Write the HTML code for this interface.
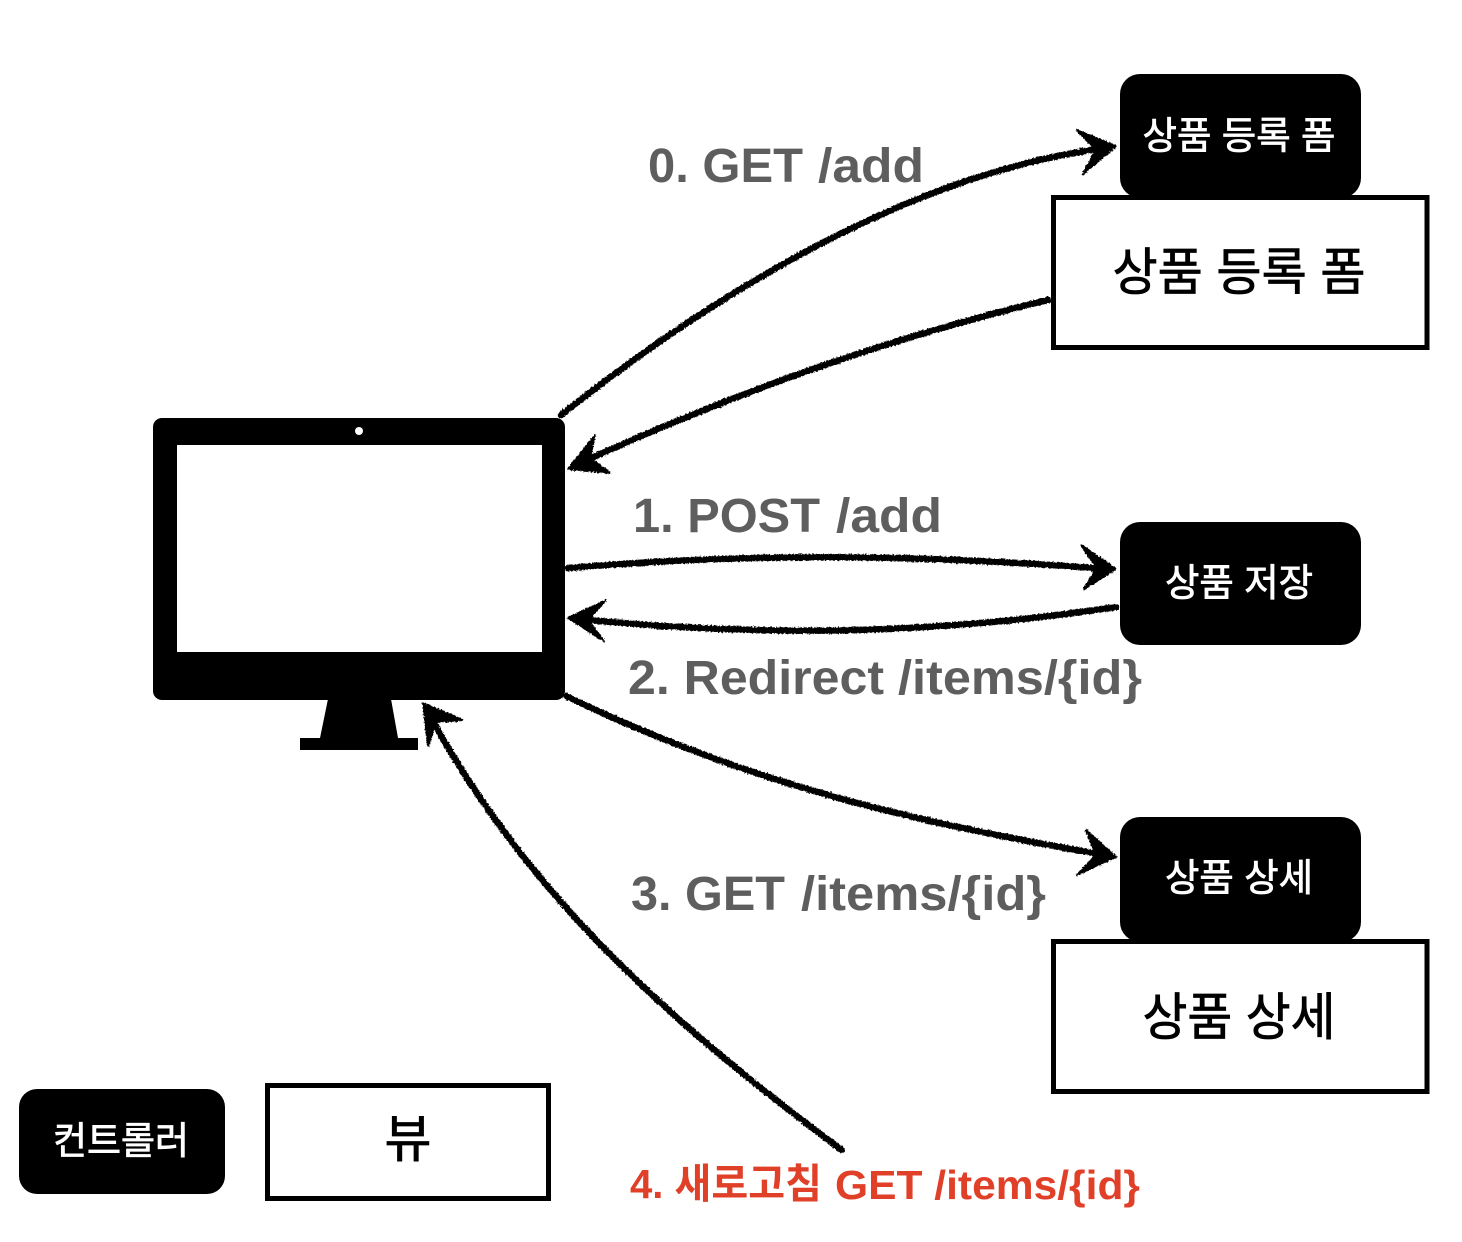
<!DOCTYPE html>
<html lang="ko"><head><meta charset="utf-8"><style>
html,body{margin:0;padding:0;background:#fff;width:1462px;height:1242px;overflow:hidden}
svg{display:block}
text{font-family:"Liberation Sans","Noto Sans CJK KR",sans-serif}
.k{text-anchor:middle;stroke-width:.8px}
.w{fill:#fff;stroke:#fff}
.b{fill:#000;stroke:#000}
.l{font-weight:bold;fill:#5e5e5e;font-size:48px}
</style></head><body>
<svg width="1462" height="1242" viewBox="0 0 1462 1242" xmlns="http://www.w3.org/2000/svg">
<defs><filter id="r" x="-10%" y="-10%" width="120%" height="120%" filterUnits="objectBoundingBox">
<feTurbulence type="fractalNoise" baseFrequency="0.55" numOctaves="2" seed="4"/>
<feDisplacementMap in="SourceGraphic" scale="3.5" xChannelSelector="R" yChannelSelector="G"/>
</filter></defs>
<rect width="1462" height="1242" fill="#fff"/>
<!-- monitor -->
<rect x="153" y="418" width="412" height="282" rx="9" fill="#000"/>
<rect x="177" y="445" width="365" height="207" fill="#fff"/>
<circle cx="359" cy="431" r="4" fill="#fff"/>
<path d="M328 699H391L398 738H418V750H300V738H320Z" fill="#000"/>
<!-- boxes -->
<rect x="1120" y="74" width="241" height="124" rx="20" fill="#000"/>
<rect x="1053.500" y="197.500" width="373.500" height="150" fill="#fff" stroke="#000" stroke-width="5"/>
<rect x="1120" y="522" width="241" height="123" rx="20" fill="#000"/>
<rect x="1120" y="817" width="241" height="125" rx="20" fill="#000"/>
<rect x="1053.500" y="941.500" width="373.500" height="150" fill="#fff" stroke="#000" stroke-width="5"/>
<rect x="19" y="1089" width="206" height="105" rx="18" fill="#000"/>
<rect x="267.500" y="1085.500" width="281" height="113" fill="#fff" stroke="#000" stroke-width="5"/>
<!-- box labels -->
<text class="k w" x="1239" y="149" font-size="38" textLength="193" lengthAdjust="spacingAndGlyphs">상품 등록 폼</text>
<text class="k b" x="1239" y="290" font-size="51" textLength="253" lengthAdjust="spacingAndGlyphs">상품 등록 폼</text>
<text class="k w" x="1239" y="596" font-size="38" textLength="148" lengthAdjust="spacingAndGlyphs">상품 저장</text>
<text class="k w" x="1239" y="891" font-size="38" textLength="148" lengthAdjust="spacingAndGlyphs">상품 상세</text>
<text class="k b" x="1239" y="1035" font-size="51" textLength="193" lengthAdjust="spacingAndGlyphs">상품 상세</text>
<text class="k w" x="121" y="1154" font-size="38" textLength="136" lengthAdjust="spacingAndGlyphs">컨트롤러</text>
<text class="k b" x="408" y="1157" font-size="51">뷰</text>
<!-- connector labels -->
<text class="l" x="648" y="182" textLength="155" lengthAdjust="spacingAndGlyphs">0. GET</text>
<text class="l" x="818" y="182" textLength="106" lengthAdjust="spacingAndGlyphs">/add</text>
<text class="l" x="633" y="532" textLength="187" lengthAdjust="spacingAndGlyphs">1. POST</text>
<text class="l" x="836" y="532" textLength="106" lengthAdjust="spacingAndGlyphs">/add</text>
<text class="l" x="628" y="694" textLength="256" lengthAdjust="spacingAndGlyphs">2. Redirect</text>
<text class="l" x="898" y="694" textLength="244" lengthAdjust="spacingAndGlyphs">/items/{id}</text>
<text class="l" x="631" y="910" textLength="154" lengthAdjust="spacingAndGlyphs">3. GET</text>
<text class="l" x="801" y="910" textLength="245" lengthAdjust="spacingAndGlyphs">/items/{id}</text>
<text x="630" y="1198" font-size="41" font-weight="bold" fill="#e04028" textLength="192" lengthAdjust="spacingAndGlyphs">4. 새로고침</text>
<text x="835" y="1199" font-size="41" font-weight="bold" fill="#e04028" textLength="305" lengthAdjust="spacingAndGlyphs">GET /items/{id}</text>
<!-- arrows -->
<g fill="none" stroke="#000" stroke-width="6.500" stroke-linecap="round" stroke-linejoin="round" filter="url(#r)">
<path d="M561 415C700 305 900 175 1105 148"/>
<path d="M1048 300C880 340 730 395 578 464"/>
<path d="M568 568C760 552 930 555 1105 569"/>
<path d="M1116 607C930 635 760 637 578 619"/>
<path d="M566 696C740 780 900 820 1105 855"/>
<path d="M842 1150C680 1030 530 900 430 716"/>
<g fill="#000" stroke-width="2">
<path d="M1116 146L1077 130L1096 150L1083 174Z"/>
<path d="M568 469L595 435L590 458L610 473Z"/>
<path d="M1116 569L1081 545L1097 568L1084 589Z"/>
<path d="M568 618L606 600L588 620L604 641Z"/>
<path d="M1116 857L1086 830L1096 855L1077 875Z"/>
<path d="M423 703L463 720L436 722L428 746Z"/>
</g>
</g>
</svg>
</body></html>
